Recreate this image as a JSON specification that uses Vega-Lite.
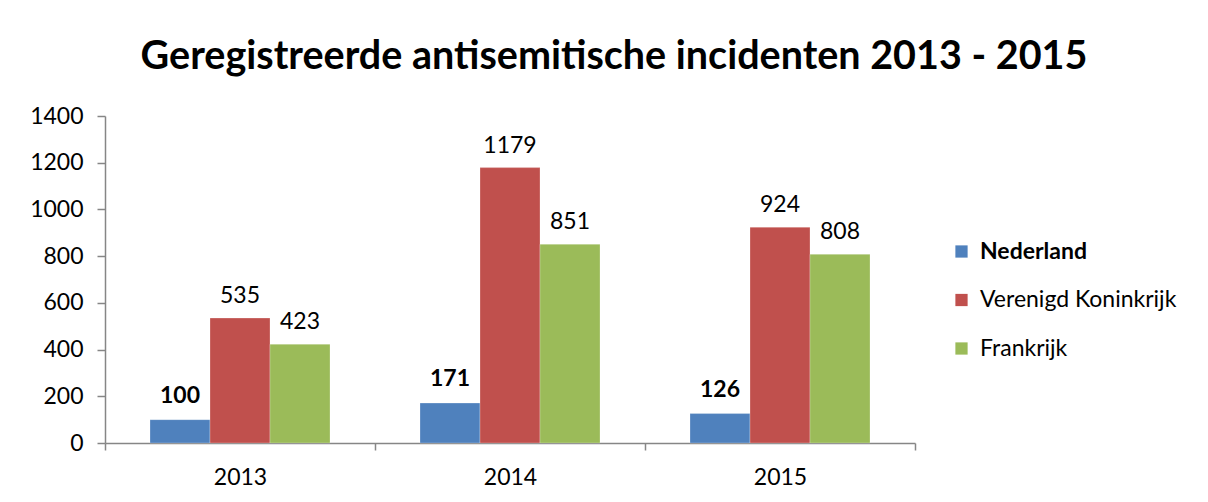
{
  "$schema": "https://vega.github.io/schema/vega-lite/v6.json",
  "autosize": {"type": "none"},
  "width": 810,
  "height": 327,
  "padding": {"left": 105, "top": 116, "right": 293, "bottom": 59},
  "background": "white",
  "title": {
    "text": "Geregistreerde antisemitische incidenten 2013 - 2015",
    "font": "Lato",
    "fontSize": 39.5,
    "fontWeight": "bold",
    "color": "#000000",
    "anchor": "middle",
    "dx": 104,
    "offset": 28
  },
  "data": {
    "values": [
      {"jaar": "2013", "land": "Nederland", "aantal": 100},
      {"jaar": "2013", "land": "Verenigd Koninkrijk", "aantal": 535},
      {"jaar": "2013", "land": "Frankrijk", "aantal": 423},
      {"jaar": "2014", "land": "Nederland", "aantal": 171},
      {"jaar": "2014", "land": "Verenigd Koninkrijk", "aantal": 1179},
      {"jaar": "2014", "land": "Frankrijk", "aantal": 851},
      {"jaar": "2015", "land": "Nederland", "aantal": 126},
      {"jaar": "2015", "land": "Verenigd Koninkrijk", "aantal": 924},
      {"jaar": "2015", "land": "Frankrijk", "aantal": 808}
    ]
  },
  "encoding": {
    "x": {
      "field": "jaar", "type": "nominal",
      "scale": {"paddingInner": 0, "paddingOuter": 0},
      "axis": {
        "title": null, "labelAngle": 0, "labelFont": "Lato", "labelFontSize": 23,
        "labelColor": "#000000", "domainColor": "#868686", "tickColor": "#868686",
        "tickSize": 7, "tickBand": "extent", "labelPadding": 16, "domainWidth": 1.5, "tickWidth": 1.5
      }
    },
    "xOffset": {
      "field": "land", "type": "nominal",
      "scale": {"domain": ["Nederland", "Verenigd Koninkrijk", "Frankrijk"], "paddingInner": 0, "paddingOuter": 0.75}
    },
    "y": {
      "field": "aantal", "type": "quantitative",
      "scale": {"domain": [0, 1400], "nice": false},
      "axis": {
        "title": null, "grid": false, "values": [0, 200, 400, 600, 800, 1000, 1200, 1400], "format": "d",
        "labelFont": "Lato", "labelFontSize": 23, "labelColor": "#000000",
        "domainColor": "#868686", "tickColor": "#868686", "tickSize": 8, "labelPadding": 14,
        "domainWidth": 1.5, "tickWidth": 1.5
      }
    }
  },
  "layer": [
    {
      "mark": {"type": "bar", "stroke": "white", "strokeWidth": 0.5, "strokeOpacity": 0.5},
      "encoding": {
        "color": {
          "field": "land", "type": "nominal",
          "scale": {"domain": ["Nederland", "Verenigd Koninkrijk", "Frankrijk"], "range": ["#4F81BD", "#C0504D", "#9BBB59"]},
          "legend": {
            "title": null, "orient": "none", "legendX": 845, "legendY": 124,
            "symbolType": "square", "symbolSize": 150, "symbolStrokeWidth": 0,
            "labelFont": "Lato", "labelFontSize": 23, "labelColor": "#000000",
            "labelFontWeight": {"expr": "datum.value === 'Nederland' ? 'bold' : 'normal'"},
            "rowPadding": 24.5, "labelOffset": 7, "labelLimit": 300
          }
        }
      }
    },
    {
      "transform": [{"filter": "datum.land === 'Nederland'"}],
      "mark": {"type": "text", "font": "Lato", "fontSize": 23, "fontWeight": "bold", "baseline": "alphabetic", "dy": -17, "color": "#000000"},
      "encoding": {"text": {"field": "aantal", "type": "quantitative"}}
    },
    {
      "transform": [{"filter": "datum.land !== 'Nederland'"}],
      "mark": {"type": "text", "font": "Lato", "fontSize": 23, "baseline": "alphabetic", "dy": -15, "color": "#000000"},
      "encoding": {"text": {"field": "aantal", "type": "quantitative"}}
    }
  ],
  "config": {"view": {"stroke": null}}
}
